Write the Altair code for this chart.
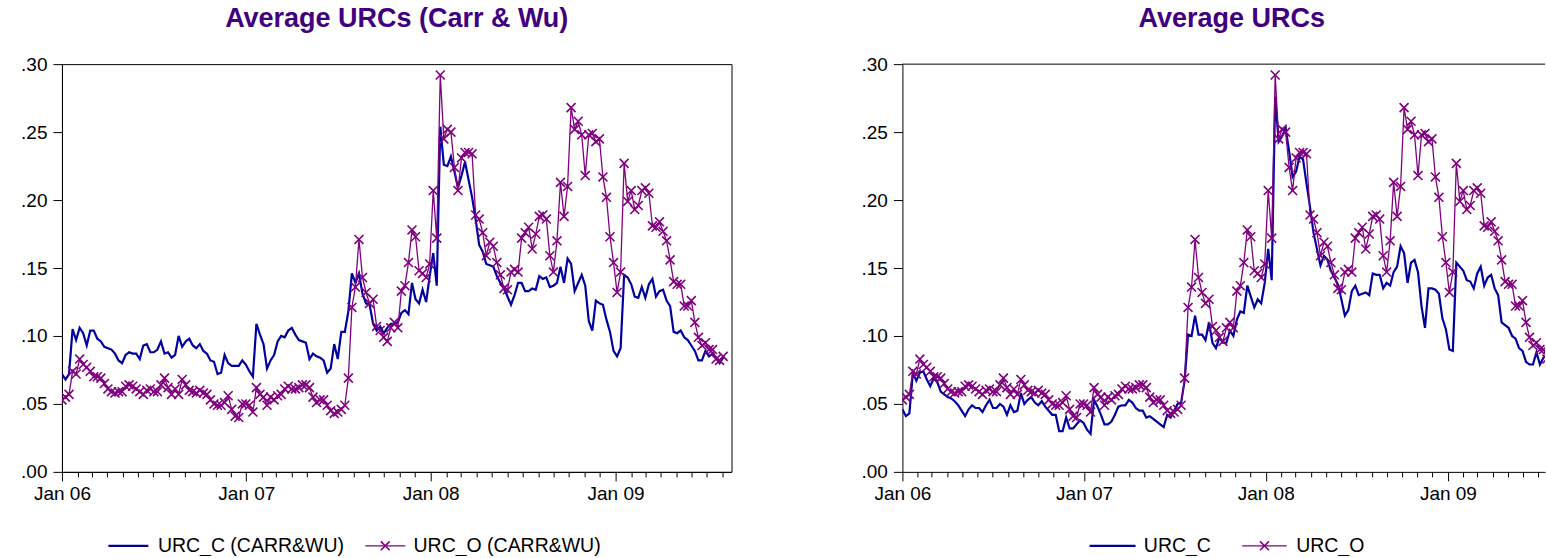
import altair as alt
import pandas as pd

# Weekly unit risk coefficients, first week of 2006 onwards
urc_o = [
    0.053, 0.055, 0.057, 0.074, 0.072, 0.083, 0.079, 0.077, 0.074, 0.070,
    0.070, 0.069, 0.065, 0.061, 0.059, 0.058, 0.059, 0.059, 0.063, 0.064,
    0.063, 0.061, 0.059, 0.057, 0.060, 0.061, 0.059, 0.059, 0.064, 0.069,
    0.062, 0.057, 0.061, 0.057, 0.068, 0.064, 0.060, 0.059, 0.058, 0.060,
    0.058, 0.057, 0.053, 0.050, 0.049, 0.049, 0.051, 0.056, 0.046, 0.041,
    0.040, 0.050, 0.050, 0.049, 0.044, 0.062, 0.057, 0.055, 0.049, 0.055,
    0.053, 0.056, 0.057, 0.061, 0.063, 0.061, 0.061, 0.062, 0.064, 0.064,
    0.062, 0.055, 0.051, 0.053, 0.053, 0.049, 0.045, 0.043, 0.044, 0.046,
    0.049, 0.069, 0.121, 0.136, 0.171, 0.143, 0.132, 0.124, 0.127, 0.107,
    0.104, 0.099, 0.096, 0.106, 0.110, 0.106, 0.133, 0.137, 0.154, 0.178,
    0.173, 0.148, 0.146, 0.143, 0.153, 0.207, 0.172, 0.292, 0.245, 0.252,
    0.250, 0.224, 0.207, 0.231, 0.235, 0.235, 0.234, 0.189, 0.186, 0.176,
    0.159, 0.169, 0.166, 0.154, 0.145, 0.135, 0.134, 0.147, 0.149, 0.147,
    0.172, 0.176, 0.180, 0.164, 0.175, 0.188, 0.189, 0.186, 0.159, 0.147,
    0.170, 0.213, 0.188, 0.210, 0.268, 0.252, 0.258, 0.248, 0.218, 0.248,
    0.249, 0.243, 0.245, 0.217, 0.202, 0.173, 0.154, 0.132, 0.147, 0.227,
    0.199, 0.207, 0.193, 0.196, 0.207, 0.209, 0.205, 0.181, 0.180, 0.184,
    0.177, 0.170, 0.156, 0.140, 0.138, 0.138, 0.122, 0.122, 0.126, 0.110,
    0.099, 0.093, 0.095, 0.090, 0.090, 0.083, 0.082, 0.085,
]

urc_c_carr_wu = [
    0.072, 0.068, 0.072, 0.105, 0.097, 0.106, 0.102, 0.093, 0.104, 0.104,
    0.098, 0.096, 0.092, 0.091, 0.090, 0.087, 0.082, 0.080, 0.086, 0.088,
    0.087, 0.087, 0.083, 0.093, 0.094, 0.088, 0.088, 0.090, 0.096, 0.087,
    0.088, 0.084, 0.086, 0.100, 0.092, 0.096, 0.098, 0.093, 0.091, 0.094,
    0.089, 0.087, 0.082, 0.081, 0.072, 0.073, 0.086, 0.080, 0.078, 0.078,
    0.078, 0.082, 0.079, 0.074, 0.070, 0.109, 0.101, 0.094, 0.076, 0.082,
    0.086, 0.096, 0.100, 0.099, 0.104, 0.106, 0.101, 0.097, 0.096, 0.095,
    0.083, 0.087, 0.085, 0.084, 0.082, 0.073, 0.076, 0.094, 0.083, 0.103,
    0.103, 0.118, 0.146, 0.139, 0.146, 0.131, 0.124, 0.123, 0.109, 0.104,
    0.107, 0.102, 0.106, 0.109, 0.109, 0.110, 0.117, 0.119, 0.116, 0.139,
    0.127, 0.124, 0.134, 0.125, 0.144, 0.161, 0.137, 0.254, 0.226, 0.225,
    0.232, 0.221, 0.209, 0.218, 0.228, 0.215, 0.202, 0.186, 0.167, 0.162,
    0.153, 0.152, 0.151, 0.144, 0.139, 0.135, 0.129, 0.123, 0.130, 0.139,
    0.139, 0.133, 0.133, 0.135, 0.134, 0.144, 0.142, 0.143, 0.136, 0.137,
    0.139, 0.151, 0.139, 0.157, 0.153, 0.133, 0.139, 0.145, 0.137, 0.111,
    0.104, 0.126, 0.124, 0.123, 0.112, 0.103, 0.089, 0.085, 0.091, 0.145,
    0.143, 0.138, 0.129, 0.128, 0.136, 0.128, 0.138, 0.142, 0.129, 0.133,
    0.134, 0.126, 0.122, 0.103, 0.102, 0.104, 0.099, 0.097, 0.093, 0.089,
    0.082, 0.082, 0.089, 0.085, 0.087, 0.084, 0.080, 0.084,
]

urc_c = [
    0.046, 0.041, 0.043, 0.073, 0.067, 0.073, 0.074, 0.068, 0.063, 0.069,
    0.066, 0.059, 0.057, 0.055, 0.054, 0.052, 0.049, 0.045, 0.041, 0.046,
    0.049, 0.047, 0.047, 0.044, 0.049, 0.053, 0.047, 0.047, 0.050, 0.048,
    0.042, 0.049, 0.044, 0.045, 0.058, 0.050, 0.053, 0.055, 0.051, 0.049,
    0.052, 0.048, 0.045, 0.042, 0.042, 0.030, 0.030, 0.040, 0.032, 0.032,
    0.035, 0.038, 0.036, 0.031, 0.028, 0.053, 0.048, 0.042, 0.035, 0.035,
    0.037, 0.042, 0.048, 0.049, 0.049, 0.053, 0.051, 0.047, 0.045, 0.045,
    0.040, 0.041, 0.039, 0.037, 0.035, 0.033, 0.042, 0.040, 0.045, 0.050,
    0.051, 0.067, 0.101, 0.100, 0.115, 0.101, 0.101, 0.097, 0.110, 0.095,
    0.091, 0.099, 0.095, 0.095, 0.104, 0.100, 0.112, 0.118, 0.117, 0.137,
    0.129, 0.121, 0.127, 0.124, 0.139, 0.164, 0.141, 0.276, 0.243, 0.247,
    0.253, 0.236, 0.217, 0.221, 0.232, 0.230, 0.212, 0.195, 0.176, 0.164,
    0.152, 0.159, 0.156, 0.148, 0.143, 0.138, 0.127, 0.115, 0.119, 0.133,
    0.137, 0.130, 0.131, 0.132, 0.130, 0.146, 0.145, 0.145, 0.135, 0.139,
    0.137, 0.147, 0.151, 0.166, 0.161, 0.139, 0.154, 0.156, 0.147, 0.122,
    0.106, 0.135, 0.135, 0.134, 0.131, 0.113, 0.105, 0.090, 0.089, 0.154,
    0.151, 0.148, 0.141, 0.140, 0.135, 0.146, 0.151, 0.137, 0.143, 0.145,
    0.135, 0.130, 0.110, 0.108, 0.106, 0.100, 0.098, 0.091, 0.089, 0.081,
    0.079, 0.079, 0.088, 0.079, 0.084, 0.086, 0.083, 0.085,
]

y_ticks = [0.00, 0.05, 0.10, 0.15, 0.20, 0.25, 0.30]

START = "2006-01-01"
BLUE = "#0000A0"
PURPLE = "#800080"
TITLE_COLOR = "#400080"
FONT = "Liberation Sans"
X_SHAPE = "M-1,-1L1,1M-1,1L1,-1"
PLOT_H = 408
MARK_SIZE = 80


def dt(ts):
    return alt.DateTime(year=int(ts.year), month=int(ts.month), date=int(ts.day),
                        hours=int(ts.hour), minutes=int(ts.minute))


def panel(title, title_dx, series_c, series_o, names, width, px_per_week,
          legend_pos, framed):
    n = len(series_o)
    dates = pd.date_range(START, periods=n, freq="7D").strftime("%Y-%m-%dT00:00:00")
    df_c = pd.DataFrame({"date": dates, "value": series_c})
    df_o = pd.DataFrame({"date": dates, "value": series_o})

    start = pd.Timestamp(START)
    end = start + pd.Timedelta(days=7 * width / px_per_week)
    months = pd.date_range(start, end, freq="MS")

    x = alt.X(
        "date:T",
        title=None,
        scale=alt.Scale(domain=[dt(start), dt(end)]),
        axis=alt.Axis(
            values=[dt(m) for m in months],
            tickSize={"condition": {"test": "month(datum.value) === 0", "value": 9},
                      "value": 5},
            labelExpr="month(datum.value) === 0 ? 'Jan ' + timeFormat(datum.value, '%y') : ''",
            labelOverlap=False,
            labelFlush=False,
            labelPadding=4,
            labelFontSize=19,
            labelColor="black",
            tickColor="black",
            domainColor="black",
            grid=False,
        ),
    )
    y = alt.Y(
        "value:Q",
        title=None,
        scale=alt.Scale(domain=[0, 0.30], nice=False, zero=True),
        axis=alt.Axis(
            values=y_ticks,
            labelExpr="replace(format(datum.value, '.2f'), '0.', '.')",
            tickSize=9,
            labelPadding=6,
            labelFontSize=19,
            labelColor="black",
            tickColor="black",
            domainColor="black",
            grid=False,
        ),
    )

    line_c = alt.Chart(df_c).mark_line(color=BLUE, strokeWidth=2.2, clip=True).encode(x=x, y=y)
    line_o = alt.Chart(df_o).mark_line(color=PURPLE, strokeWidth=1.3, clip=True).encode(x=x, y=y)
    pts_o = alt.Chart(df_o).mark_point(
        shape=X_SHAPE, filled=False, size=MARK_SIZE, strokeWidth=1.6, color=PURPLE,
        opacity=1, clip=True,
    ).encode(x=x, y=y)

    layers = [line_c, line_o, pts_o]

    # legend drawn underneath the axis
    (c_x0, c_x1, c_tx), (o_x0, o_x1, o_tx) = legend_pos
    ly = PLOT_H + 74
    for name, color, (x0, x1, tx), marker in (
        (names[0], BLUE, (c_x0, c_x1, c_tx), False),
        (names[1], PURPLE, (o_x0, o_x1, o_tx), True),
    ):
        item = alt.Data(values=[{"label": name}])
        layers.append(
            alt.Chart(item).mark_rule(color=color, strokeWidth=2.2 if not marker else 1.3)
            .encode(x=alt.value(x0), x2=alt.value(x1), y=alt.value(ly))
        )
        if marker:
            layers.append(
                alt.Chart(item).mark_point(shape=X_SHAPE, filled=False, size=MARK_SIZE,
                                           strokeWidth=1.6, color=color, opacity=1)
                .encode(x=alt.value((x0 + x1) / 2), y=alt.value(ly))
            )
        layers.append(
            alt.Chart(item).mark_text(align="left", baseline="middle", fontSize=19.5,
                                      font=FONT, color="black")
            .encode(x=alt.value(tx), y=alt.value(ly), text="label:N")
        )

    if not framed:
        layers.append(
            alt.Chart(alt.Data(values=[{"edge": "top"}])).mark_rule(color="black", strokeWidth=1)
            .encode(x=alt.value(0), x2=alt.value(width), y=alt.value(0))
        )

    view = (alt.ViewBackground(stroke="black", strokeWidth=1) if framed
            else alt.ViewBackground(stroke="black", strokeOpacity=0))

    return alt.layer(*layers).properties(
        width=width,
        height=PLOT_H,
        view=view,
        title=alt.TitleParams(
            text=title, anchor="middle", fontSize=27, fontWeight="bold", font=FONT,
            color=TITLE_COLOR, offset=1, baseline="alphabetic", dx=title_dx,
        ),
    )


left = panel(
    "Average URCs (Carr & Wu)", 0, urc_c_carr_wu, urc_o,
    ["URC_C (CARR&WU)", "URC_O (CARR&WU)"], 670, 3.538,
    ((46.5, 86.5, 96.0), (303.5, 343.5, 351.8)), True,
)
right = panel(
    "Average URCs", 8, urc_c, urc_o,
    ["URC_C", "URC_O"], 643, 3.486,
    ((187.3, 233.3, 241.6), (340.0, 384.6, 394.0)), False,
)

chart = alt.hconcat(left, right, spacing=171, bounds="flush").properties(
    padding={"left": 20, "top": 4, "right": 0, "bottom": 0},
    background="white",
).configure(font=FONT).configure_view(stroke="black")

chart.save("out.html", embed_options={"renderer": "svg", "actions": False})
